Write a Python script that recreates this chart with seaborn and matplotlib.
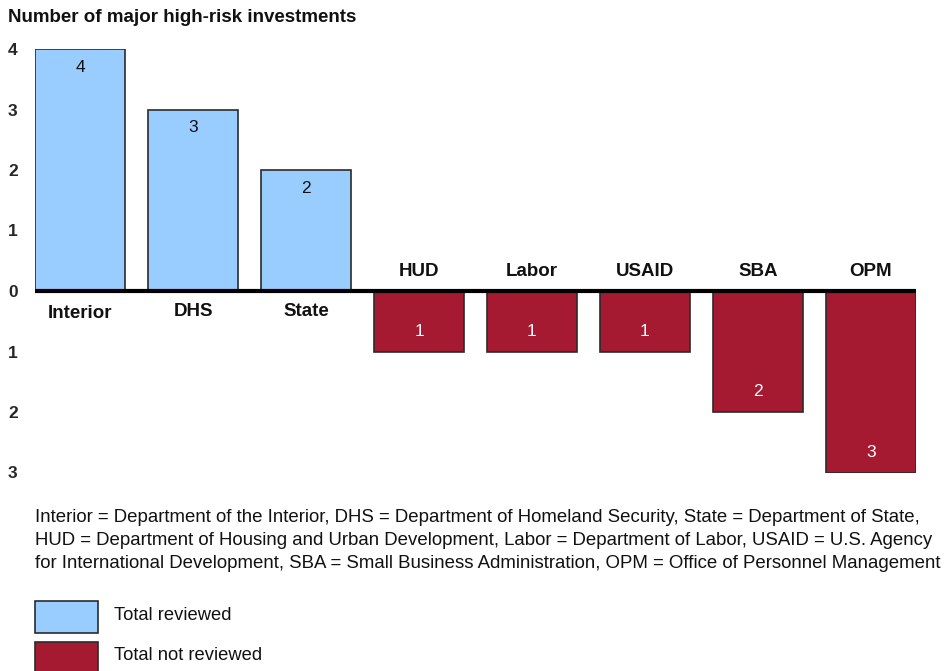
import matplotlib
matplotlib.use("Agg")
import matplotlib.pyplot as plt
import seaborn as sns
import pandas as pd
from matplotlib.patches import Rectangle

sns.set_theme(style="white")
plt.rcParams['font.family'] = ['Liberation Sans', 'DejaVu Sans']

agencies = ["Interior", "DHS", "State", "HUD", "Labor", "USAID", "SBA", "OPM"]
reviewed = [4, 3, 2, 0, 0, 0, 0, 0]
not_reviewed = [0, 0, 0, 1, 1, 1, 2, 3]
status_labels = ["Total reviewed", "Total not reviewed"]
ytick_values = [4, 3, 2, 1, 0, -1, -2, -3]
ytick_labels = ["4", "3", "2", "1", "0", "1", "2", "3"]
footnote = ("Interior = Department of the Interior, DHS = Department of Homeland Security, State = Department of State,\n"
            "HUD = Department of Housing and Urban Development, Labor = Department of Labor, USAID = U.S. Agency\n"
            "for International Development, SBA = Small Business Administration, OPM = Office of Personnel Management")

BLUE = "#99CCFF"
RED = "#A51931"
EDGE = "#2b2b2b"

rows = []
for a, r, n in zip(agencies, reviewed, not_reviewed):
    if r > 0:
        rows.append({"agency": a, "value": r, "status": status_labels[0]})
    else:
        rows.append({"agency": a, "value": -n, "status": status_labels[1]})
df = pd.DataFrame(rows)

W, H = 946, 671
fig = plt.figure(figsize=(W / 100, H / 100), dpi=100)
ax = fig.add_axes([35 / W, (H - 472.5) / H, 881 / W, (472.5 - 49) / H])

sns.barplot(data=df, x="agency", y="value", hue="status", order=agencies,
            hue_order=status_labels, palette=[BLUE, RED], dodge=False,
            saturation=1, width=0.8, edgecolor=EDGE, linewidth=1.2,
            legend=False, ax=ax)

ax.set_xlim(-0.4, 7.4)
ax.set_ylim(-3, 4)
for s in ax.spines.values():
    s.set_visible(False)
ax.set_xticks([])
ax.set_xlabel("")
ax.set_ylabel("")
ax.set_yticks(ytick_values)
ax.set_yticklabels(ytick_labels, fontsize=12.5, fontweight="bold")
ax.tick_params(axis="y", length=0, pad=16)
for t in ax.get_yticklabels():
    t.set_horizontalalignment("center")
ax.axhline(0, color="black", linewidth=3, zorder=5)

dpp = 7 / (472.5 - 49)  # data units per pixel
for i, row in df.iterrows():
    v = row["value"]
    if v > 0:
        ax.text(i, v - 18.5 * dpp, f"{int(v)}", ha="center", va="center",
                fontsize=12.5, color="#111111")
        off = 23 if row["agency"] == "Interior" else 20
        ax.text(i, -off * dpp, row["agency"], ha="center", va="center",
                fontsize=13.5, fontweight="bold", color="#111111")
    else:
        ax.text(i, v + 20 * dpp, f"{int(-v)}", ha="center", va="center",
                fontsize=12.5, color="white")
        ax.text(i, 20 * dpp, row["agency"], ha="center", va="center",
                fontsize=13.5, fontweight="bold", color="#111111")

fig.text(8 / W, 1 - 18 / H, "Number of major high-risk investments",
         ha="left", va="center", fontsize=13.5, fontweight="bold", color="#111111")

for k, (line, yy) in enumerate(zip(footnote.split("\n"), [517, 540.5, 564])):
    fig.text(35 / W, 1 - yy / H, line, ha="left", va="center",
             fontsize=13.45, color="#111111")

for j, (lab, col) in enumerate(zip(status_labels, [BLUE, RED])):
    y_top = 601 + j * 41
    fig.add_artist(Rectangle((35 / W, 1 - (y_top + 32) / H), 63 / W, 32 / H,
                             transform=fig.transFigure, facecolor=col,
                             edgecolor=EDGE, linewidth=1.2))
    fig.text(114 / W, 1 - (y_top + 14) / H, lab, ha="left", va="center",
             fontsize=13.2, color="#111111")

fig.savefig("out.png", dpi=100)
